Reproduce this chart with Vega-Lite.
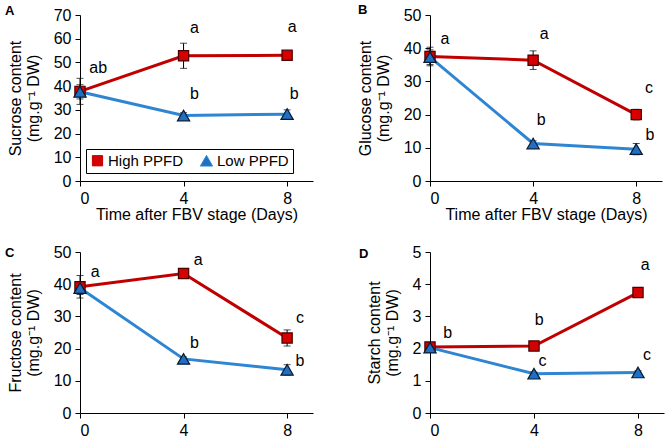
{
  "$schema": "https://vega.github.io/schema/vega-lite/v6.json",
  "padding": {"left": 5, "top": 3, "right": 2, "bottom": 2},
  "background": "white",
  "config": {
    "font": "Liberation Sans",
    "view": {"stroke": null},
    "axis": {
      "grid": false, "domainColor": "#000000", "tickColor": "#000000",
      "labelColor": "#000000", "titleColor": "#000000",
      "labelFontSize": 16, "titleFontSize": 16, "titleFontWeight": "normal",
      "tickSize": 5, "labelPadding": 4, "titlePadding": 12, "labelOverlap": false,
      "labelFont": "Liberation Sans", "titleFont": "Liberation Sans"
    },
    "axisX": {"labelPadding": 4, "titlePadding": 0},
    "title": {"fontSize": 13, "fontWeight": "bold", "anchor": "start", "font": "Liberation Sans", "color": "#000000", "offset": 2, "frame": "group"},
    "text": {"font": "Liberation Sans", "fontSize": 16, "color": "#000000"}
  },
  "datasets": {
    "s": [
      {"panel": "A", "ppfd": "High PPFD", "day": 0, "value": 37.8, "err": 5.5},
      {"panel": "A", "ppfd": "High PPFD", "day": 4, "value": 52.8, "err": 5.3},
      {"panel": "A", "ppfd": "High PPFD", "day": 8, "value": 53.0, "err": 1.2},
      {"panel": "A", "ppfd": "Low PPFD", "day": 0, "value": 37.6, "err": 3.0},
      {"panel": "A", "ppfd": "Low PPFD", "day": 4, "value": 27.6, "err": 1.2},
      {"panel": "A", "ppfd": "Low PPFD", "day": 8, "value": 28.2, "err": 1.8},
      {"panel": "B", "ppfd": "High PPFD", "day": 0, "value": 37.5, "err": 2.8},
      {"panel": "B", "ppfd": "High PPFD", "day": 4, "value": 36.4, "err": 2.8},
      {"panel": "B", "ppfd": "High PPFD", "day": 8, "value": 20.0, "err": 1.6},
      {"panel": "B", "ppfd": "Low PPFD", "day": 0, "value": 37.3, "err": 2.2},
      {"panel": "B", "ppfd": "Low PPFD", "day": 4, "value": 11.3, "err": 0.8},
      {"panel": "B", "ppfd": "Low PPFD", "day": 8, "value": 9.6, "err": 1.7},
      {"panel": "C", "ppfd": "High PPFD", "day": 0, "value": 39.2, "err": 3.5},
      {"panel": "C", "ppfd": "High PPFD", "day": 4, "value": 43.3, "err": 1.5},
      {"panel": "C", "ppfd": "High PPFD", "day": 8, "value": 23.3, "err": 2.5},
      {"panel": "C", "ppfd": "Low PPFD", "day": 0, "value": 38.8, "err": 2.0},
      {"panel": "C", "ppfd": "Low PPFD", "day": 4, "value": 16.8, "err": 0.6},
      {"panel": "C", "ppfd": "Low PPFD", "day": 8, "value": 13.4, "err": 1.6},
      {"panel": "D", "ppfd": "High PPFD", "day": 0, "value": 2.05, "err": 0.08},
      {"panel": "D", "ppfd": "High PPFD", "day": 4, "value": 2.08, "err": 0.06},
      {"panel": "D", "ppfd": "High PPFD", "day": 8, "value": 3.74, "err": 0.15},
      {"panel": "D", "ppfd": "Low PPFD", "day": 0, "value": 2.03, "err": 0.06},
      {"panel": "D", "ppfd": "Low PPFD", "day": 4, "value": 1.22, "err": 0.05},
      {"panel": "D", "ppfd": "Low PPFD", "day": 8, "value": 1.26, "err": 0.05}
    ],
    "l": [
      {"panel": "A", "lx": 0.7, "ly": 47.5, "label": "ab"},
      {"panel": "A", "lx": 4.42, "ly": 64.4, "label": "a"},
      {"panel": "A", "lx": 8.2, "ly": 64.8, "label": "a"},
      {"panel": "A", "lx": 4.42, "ly": 36.5, "label": "b"},
      {"panel": "A", "lx": 8.27, "ly": 36.5, "label": "b"},
      {"panel": "B", "lx": 0.58, "ly": 42.8, "label": "a"},
      {"panel": "B", "lx": 4.43, "ly": 44.3, "label": "a"},
      {"panel": "B", "lx": 8.5, "ly": 28.0, "label": "c"},
      {"panel": "B", "lx": 4.31, "ly": 18.3, "label": "b"},
      {"panel": "B", "lx": 8.53, "ly": 14.0, "label": "b"},
      {"panel": "C", "lx": 0.59, "ly": 43.9, "label": "a"},
      {"panel": "C", "lx": 4.57, "ly": 47.4, "label": "a"},
      {"panel": "C", "lx": 8.5, "ly": 29.6, "label": "c"},
      {"panel": "C", "lx": 4.42, "ly": 21.8, "label": "b"},
      {"panel": "C", "lx": 8.5, "ly": 16.3, "label": "b"},
      {"panel": "D", "lx": 0.68, "ly": 2.5, "label": "b"},
      {"panel": "D", "lx": 4.2, "ly": 2.89, "label": "b"},
      {"panel": "D", "lx": 8.28, "ly": 4.61, "label": "a"},
      {"panel": "D", "lx": 4.33, "ly": 1.6, "label": "c"},
      {"panel": "D", "lx": 8.35, "ly": 1.8, "label": "c"}
    ]
  },
  "columns": 2,
  "spacing": {"row": 71, "column": 117},
  "bounds": "flush",
  "resolve": {
    "scale": {"color": "independent", "shape": "independent", "stroke": "independent", "size": "independent"},
    "legend": {"shape": "independent", "color": "independent", "stroke": "independent", "size": "independent"}
  },
  "concat": [
    {
      "width": 233, "height": 166,
      "title": {"text": "A", "dx": -75, "dy": 12.5},
      "layer": [
        {
          "data": {"name": "s"}, "transform": [{"filter": "datum.panel === 'A'"}],
          "mark": {"type": "line", "strokeWidth": 3},
          "encoding": {
            "x": {"field": "day", "type": "quantitative", "title": "Time after FBV stage (Days)", "scale": {"domain": [0, 9], "nice": false}, "axis": {"values": [0, 4, 8]}},
            "y": {"field": "value", "type": "quantitative", "title": ["Sucrose content", "(mg.g⁻¹ DW)"], "scale": {"domain": [0, 70], "nice": false}, "axis": {"values": [0, 10, 20, 30, 40, 50, 60, 70], "labelOverlap": false}},
            "color": {"field": "ppfd", "type": "nominal", "scale": {"domain": ["High PPFD", "Low PPFD"], "range": ["#C00000", "#2E86D3"]},
              "legend": {
                "title": null, "orient": "none", "legendX": 6, "legendY": 134, "direction": "horizontal",
                "strokeColor": "#000000", "padding": 4, "labelFontSize": 15, "labelFont": "Liberation Sans", "labelColor": "#000000",
                "symbolSize": 120, "labelOffset": 3, "columnPadding": 14, "symbolStrokeWidth": 1,
                "encode": {"symbols": {"update": {
                  "fill": {"signal": "datum.value === 'High PPFD' ? '#D50000' : '#1F6FC2'"},
                  "fillOpacity": {"value": 1},
                  "opacity": {"value": 1}
                }}}
              }
            }
          }
        },
        {
          "data": {"name": "s"}, "transform": [{"filter": "datum.panel === 'A'"}],
          "mark": {"type": "errorbar", "ticks": true, "color": "#000000", "size": 7, "thickness": 1},
          "encoding": {
            "x": {"field": "day", "type": "quantitative", "title": "Time after FBV stage (Days)", "axis": {"values": [0, 4, 8]}},
            "y": {"field": "value", "type": "quantitative", "title": ["Sucrose content", "(mg.g⁻¹ DW)"], "axis": {"values": [0, 10, 20, 30, 40, 50, 60, 70], "labelOverlap": false}},
            "yError": {"field": "err"}
          }
        },
        {
          "data": {"name": "s"}, "transform": [{"filter": "datum.panel === 'A'"}],
          "mark": {"type": "point", "filled": true, "opacity": 1, "strokeWidth": 1.2},
          "encoding": {
            "x": {"field": "day", "type": "quantitative", "title": "Time after FBV stage (Days)", "axis": {"values": [0, 4, 8]}},
            "y": {"field": "value", "type": "quantitative", "title": ["Sucrose content", "(mg.g⁻¹ DW)"], "axis": {"values": [0, 10, 20, 30, 40, 50, 60, 70], "labelOverlap": false}},
            "fill": {"field": "ppfd", "type": "nominal", "scale": {"domain": ["High PPFD", "Low PPFD"], "range": ["#D50000", "#1F6FC2"]}, "legend": null},
            "stroke": {"field": "ppfd", "type": "nominal", "scale": {"domain": ["High PPFD", "Low PPFD"], "range": ["#4A0000", "#0A1A30"]}, "legend": null},
            "size": {"field": "ppfd", "type": "nominal", "scale": {"domain": ["High PPFD", "Low PPFD"], "range": [105, 150]}, "legend": null},
            "shape": {"field": "ppfd", "type": "nominal", "scale": {"domain": ["High PPFD", "Low PPFD"], "range": ["square", "triangle-up"]}, "legend": null}
          }
        },
        {
          "data": {"name": "l"}, "transform": [{"filter": "datum.panel === 'A'"}],
          "mark": {"type": "text", "align": "center", "baseline": "middle"},
          "encoding": {
            "x": {"field": "lx", "type": "quantitative", "title": "Time after FBV stage (Days)", "axis": {"values": [0, 4, 8]}},
            "y": {"field": "ly", "type": "quantitative", "title": ["Sucrose content", "(mg.g⁻¹ DW)"], "axis": {"values": [0, 10, 20, 30, 40, 50, 60, 70], "labelOverlap": false}},
            "text": {"field": "label"}
          }
        }
      ]
    },
    {
      "width": 232, "height": 166,
      "title": {"text": "B", "dx": -72, "dy": 11.5},
      "layer": [
        {
          "data": {"name": "s"}, "transform": [{"filter": "datum.panel === 'B'"}],
          "mark": {"type": "line", "strokeWidth": 3},
          "encoding": {
            "x": {"field": "day", "type": "quantitative", "title": "Time after FBV stage (Days)", "scale": {"domain": [0, 9], "nice": false}, "axis": {"values": [0, 4, 8]}},
            "y": {"field": "value", "type": "quantitative", "title": ["Glucose content", "(mg.g⁻¹ DW)"], "scale": {"domain": [0, 50], "nice": false}, "axis": {"values": [0, 10, 20, 30, 40, 50], "labelOverlap": false}},
            "color": {"field": "ppfd", "type": "nominal", "scale": {"domain": ["High PPFD", "Low PPFD"], "range": ["#C00000", "#2E86D3"]}, "legend": null}
          }
        },
        {
          "data": {"name": "s"}, "transform": [{"filter": "datum.panel === 'B'"}],
          "mark": {"type": "errorbar", "ticks": true, "color": "#000000", "size": 7, "thickness": 1},
          "encoding": {
            "x": {"field": "day", "type": "quantitative", "title": "Time after FBV stage (Days)", "axis": {"values": [0, 4, 8]}},
            "y": {"field": "value", "type": "quantitative", "title": ["Glucose content", "(mg.g⁻¹ DW)"], "axis": {"values": [0, 10, 20, 30, 40, 50], "labelOverlap": false}},
            "yError": {"field": "err"}
          }
        },
        {
          "data": {"name": "s"}, "transform": [{"filter": "datum.panel === 'B' && datum.ppfd === 'High PPFD'"}],
          "mark": {"type": "point", "shape": "square", "size": 105, "filled": true, "opacity": 1, "fill": "#D50000", "stroke": "#4A0000", "strokeWidth": 1.2},
          "encoding": {
            "x": {"field": "day", "type": "quantitative", "title": "Time after FBV stage (Days)", "axis": {"values": [0, 4, 8]}},
            "y": {"field": "value", "type": "quantitative", "title": ["Glucose content", "(mg.g⁻¹ DW)"], "axis": {"values": [0, 10, 20, 30, 40, 50], "labelOverlap": false}}
          }
        },
        {
          "data": {"name": "s"}, "transform": [{"filter": "datum.panel === 'B' && datum.ppfd === 'Low PPFD'"}],
          "mark": {"type": "point", "shape": "triangle-up", "size": 150, "filled": true, "opacity": 1, "fill": "#1F6FC2", "stroke": "#0A1A30", "strokeWidth": 1.2},
          "encoding": {
            "x": {"field": "day", "type": "quantitative", "title": "Time after FBV stage (Days)", "axis": {"values": [0, 4, 8]}},
            "y": {"field": "value", "type": "quantitative", "title": ["Glucose content", "(mg.g⁻¹ DW)"], "axis": {"values": [0, 10, 20, 30, 40, 50], "labelOverlap": false}}
          }
        },
        {
          "data": {"name": "l"}, "transform": [{"filter": "datum.panel === 'B'"}],
          "mark": {"type": "text", "align": "center", "baseline": "middle"},
          "encoding": {
            "x": {"field": "lx", "type": "quantitative", "title": "Time after FBV stage (Days)", "axis": {"values": [0, 4, 8]}},
            "y": {"field": "ly", "type": "quantitative", "title": ["Glucose content", "(mg.g⁻¹ DW)"], "axis": {"values": [0, 10, 20, 30, 40, 50], "labelOverlap": false}},
            "text": {"field": "label"}
          }
        }
      ]
    },
    {
      "width": 233, "height": 161,
      "title": {"text": "C", "dx": -75, "dy": 17.5},
      "layer": [
        {
          "data": {"name": "s"}, "transform": [{"filter": "datum.panel === 'C'"}],
          "mark": {"type": "line", "strokeWidth": 3},
          "encoding": {
            "x": {"field": "day", "type": "quantitative", "title": null, "scale": {"domain": [0, 9], "nice": false}, "axis": {"values": [0, 4, 8]}},
            "y": {"field": "value", "type": "quantitative", "title": ["Fructose content", "(mg.g⁻¹ DW)"], "scale": {"domain": [0, 50], "nice": false}, "axis": {"values": [0, 10, 20, 30, 40, 50], "labelOverlap": false}},
            "color": {"field": "ppfd", "type": "nominal", "scale": {"domain": ["High PPFD", "Low PPFD"], "range": ["#C00000", "#2E86D3"]}, "legend": null}
          }
        },
        {
          "data": {"name": "s"}, "transform": [{"filter": "datum.panel === 'C'"}],
          "mark": {"type": "errorbar", "ticks": true, "color": "#000000", "size": 7, "thickness": 1},
          "encoding": {
            "x": {"field": "day", "type": "quantitative", "title": null, "axis": {"values": [0, 4, 8]}},
            "y": {"field": "value", "type": "quantitative", "title": ["Fructose content", "(mg.g⁻¹ DW)"], "axis": {"values": [0, 10, 20, 30, 40, 50], "labelOverlap": false}},
            "yError": {"field": "err"}
          }
        },
        {
          "data": {"name": "s"}, "transform": [{"filter": "datum.panel === 'C' && datum.ppfd === 'High PPFD'"}],
          "mark": {"type": "point", "shape": "square", "size": 105, "filled": true, "opacity": 1, "fill": "#D50000", "stroke": "#4A0000", "strokeWidth": 1.2},
          "encoding": {
            "x": {"field": "day", "type": "quantitative", "title": null, "axis": {"values": [0, 4, 8]}},
            "y": {"field": "value", "type": "quantitative", "title": ["Fructose content", "(mg.g⁻¹ DW)"], "axis": {"values": [0, 10, 20, 30, 40, 50], "labelOverlap": false}}
          }
        },
        {
          "data": {"name": "s"}, "transform": [{"filter": "datum.panel === 'C' && datum.ppfd === 'Low PPFD'"}],
          "mark": {"type": "point", "shape": "triangle-up", "size": 150, "filled": true, "opacity": 1, "fill": "#1F6FC2", "stroke": "#0A1A30", "strokeWidth": 1.2},
          "encoding": {
            "x": {"field": "day", "type": "quantitative", "title": null, "axis": {"values": [0, 4, 8]}},
            "y": {"field": "value", "type": "quantitative", "title": ["Fructose content", "(mg.g⁻¹ DW)"], "axis": {"values": [0, 10, 20, 30, 40, 50], "labelOverlap": false}}
          }
        },
        {
          "data": {"name": "l"}, "transform": [{"filter": "datum.panel === 'C'"}],
          "mark": {"type": "text", "align": "center", "baseline": "middle"},
          "encoding": {
            "x": {"field": "lx", "type": "quantitative", "title": null, "axis": {"values": [0, 4, 8]}},
            "y": {"field": "ly", "type": "quantitative", "title": ["Fructose content", "(mg.g⁻¹ DW)"], "axis": {"values": [0, 10, 20, 30, 40, 50], "labelOverlap": false}},
            "text": {"field": "label"}
          }
        }
      ]
    },
    {
      "width": 234, "height": 161,
      "title": {"text": "D", "dx": -71, "dy": 18.5},
      "layer": [
        {
          "data": {"name": "s"}, "transform": [{"filter": "datum.panel === 'D'"}],
          "mark": {"type": "line", "strokeWidth": 3},
          "encoding": {
            "x": {"field": "day", "type": "quantitative", "title": null, "scale": {"domain": [0, 9], "nice": false}, "axis": {"values": [0, 4, 8]}},
            "y": {"field": "value", "type": "quantitative", "title": ["Starch content", "(mg.g⁻¹ DW)"], "scale": {"domain": [0, 5], "nice": false}, "axis": {"values": [0, 1, 2, 3, 4, 5], "labelOverlap": false}},
            "color": {"field": "ppfd", "type": "nominal", "scale": {"domain": ["High PPFD", "Low PPFD"], "range": ["#C00000", "#2E86D3"]}, "legend": null}
          }
        },
        {
          "data": {"name": "s"}, "transform": [{"filter": "datum.panel === 'D'"}],
          "mark": {"type": "errorbar", "ticks": true, "color": "#000000", "size": 7, "thickness": 1},
          "encoding": {
            "x": {"field": "day", "type": "quantitative", "title": null, "axis": {"values": [0, 4, 8]}},
            "y": {"field": "value", "type": "quantitative", "title": ["Starch content", "(mg.g⁻¹ DW)"], "axis": {"values": [0, 1, 2, 3, 4, 5], "labelOverlap": false}},
            "yError": {"field": "err"}
          }
        },
        {
          "data": {"name": "s"}, "transform": [{"filter": "datum.panel === 'D' && datum.ppfd === 'High PPFD'"}],
          "mark": {"type": "point", "shape": "square", "size": 105, "filled": true, "opacity": 1, "fill": "#D50000", "stroke": "#4A0000", "strokeWidth": 1.2},
          "encoding": {
            "x": {"field": "day", "type": "quantitative", "title": null, "axis": {"values": [0, 4, 8]}},
            "y": {"field": "value", "type": "quantitative", "title": ["Starch content", "(mg.g⁻¹ DW)"], "axis": {"values": [0, 1, 2, 3, 4, 5], "labelOverlap": false}}
          }
        },
        {
          "data": {"name": "s"}, "transform": [{"filter": "datum.panel === 'D' && datum.ppfd === 'Low PPFD'"}],
          "mark": {"type": "point", "shape": "triangle-up", "size": 150, "filled": true, "opacity": 1, "fill": "#1F6FC2", "stroke": "#0A1A30", "strokeWidth": 1.2},
          "encoding": {
            "x": {"field": "day", "type": "quantitative", "title": null, "axis": {"values": [0, 4, 8]}},
            "y": {"field": "value", "type": "quantitative", "title": ["Starch content", "(mg.g⁻¹ DW)"], "axis": {"values": [0, 1, 2, 3, 4, 5], "labelOverlap": false}}
          }
        },
        {
          "data": {"name": "l"}, "transform": [{"filter": "datum.panel === 'D'"}],
          "mark": {"type": "text", "align": "center", "baseline": "middle"},
          "encoding": {
            "x": {"field": "lx", "type": "quantitative", "title": null, "axis": {"values": [0, 4, 8]}},
            "y": {"field": "ly", "type": "quantitative", "title": ["Starch content", "(mg.g⁻¹ DW)"], "axis": {"values": [0, 1, 2, 3, 4, 5], "labelOverlap": false}},
            "text": {"field": "label"}
          }
        }
      ]
    }
  ]
}
